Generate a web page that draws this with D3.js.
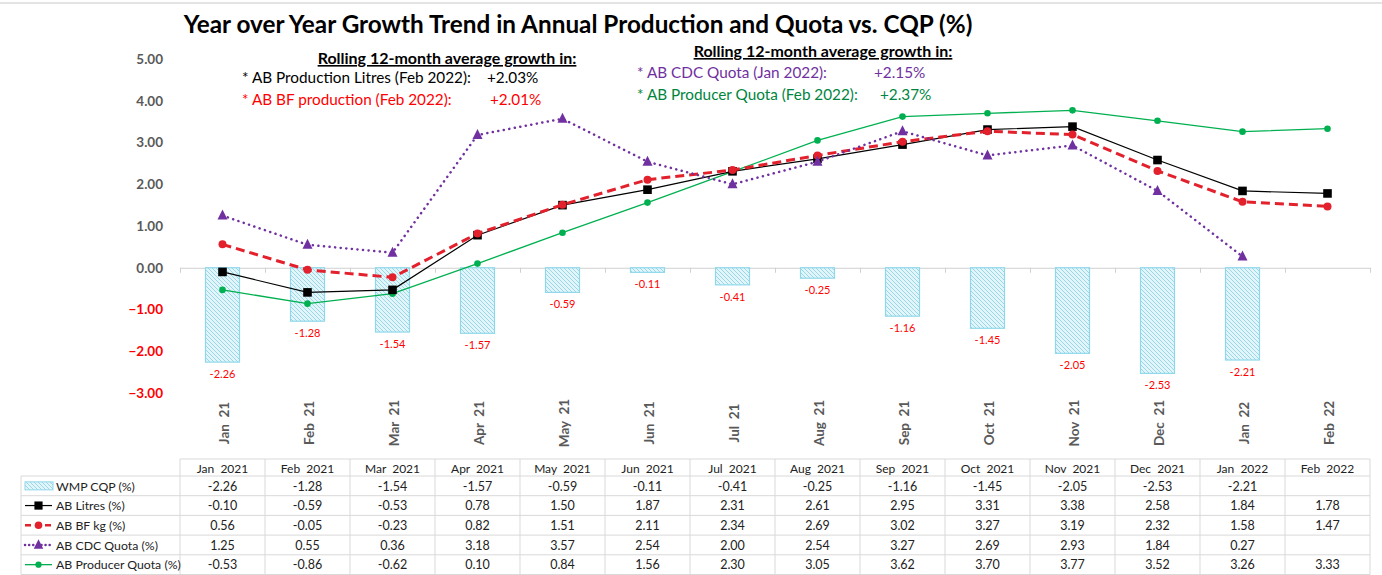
<!DOCTYPE html>
<html>
<head>
<meta content="text/html;charset=utf-8" http-equiv="Content-Type">
<title>YoY Growth Trend</title>
<script src="https://d3js.org/d3.v7.min.js"></script>
<style>
  body { margin: 0; background: #fff; }
  text { font-family: Lato, "Noto Sans", sans-serif; white-space: pre; }
</style>
</head>
<body>
<script>
// chart data
var months = ["Jan  21","Feb  21","Mar  21","Apr  21","May  21","Jun  21","Jul  21","Aug  21","Sep  21","Oct  21","Nov  21","Dec  21","Jan  22","Feb  22"];
var tableHeads = ["Jan  2021","Feb  2021","Mar  2021","Apr  2021","May  2021","Jun  2021","Jul  2021","Aug  2021","Sep  2021","Oct  2021","Nov  2021","Dec  2021","Jan  2022","Feb  2022"];
var wmpCqp = [-2.26,-1.28,-1.54,-1.57,-0.59,-0.11,-0.41,-0.25,-1.16,-1.45,-2.05,-2.53,-2.21,null];
var abLitres = [-0.10,-0.59,-0.53,0.78,1.50,1.87,2.31,2.61,2.95,3.31,3.38,2.58,1.84,1.78];
var abBfKg = [0.56,-0.05,-0.23,0.82,1.51,2.11,2.34,2.69,3.02,3.27,3.19,2.32,1.58,1.47];
var abCdc = [1.25,0.55,0.36,3.18,3.57,2.54,2.00,2.54,3.27,2.69,2.93,1.84,0.27,null];
var abProdQuota = [-0.53,-0.86,-0.62,0.10,0.84,1.56,2.30,3.05,3.62,3.70,3.77,3.52,3.26,3.33];
var yTicks = [5,4,3,2,1,0,-1,-2,-3];

var W = 1382, H = 575;
var svg = d3.select("body").append("svg").attr("width", W).attr("height", H);

// hatch for the bars
var defs = svg.append("defs");
var pat = defs.append("pattern").attr("id","hatch").attr("patternUnits","userSpaceOnUse")
  .attr("width",4).attr("height",4);
pat.append("rect").attr("width",4).attr("height",4).attr("fill","#e4f5fa");
pat.append("path").attr("d","M-1,-1 L5,5 M-1,3 L1,5 M3,-1 L5,1")
  .attr("stroke","#8fd6e9").attr("stroke-width",0.9);

svg.append("line").attr("x1",0).attr("x2",W).attr("y1",3).attr("y2",3)
  .attr("stroke","#c8c8c8");

// scales
var x = d3.scaleBand().domain(months).range([180,1370]);
var xBar = d3.scaleBand().domain(months).range([180,1370]).paddingInner(0.6).paddingOuter(0.3);
var y = d3.scaleLinear().domain([-3,5]).range([393,59]);
var cx = function(i){ return x(months[i]) + x.bandwidth()/2; };

// title
svg.append("text").attr("x",578).attr("y",33).attr("text-anchor","middle")
  .attr("font-size",24.3).attr("font-weight","bold").attr("fill","#000")
  .text("Year over Year Growth Trend in Annual Production and Quota vs. CQP (%)");

// y axis labels
var yAxis = svg.append("g").attr("transform","translate(163,0)")
  .call(d3.axisLeft(y).tickValues(yTicks).tickFormat(d3.format(".2f")).tickSize(0).tickPadding(0));
yAxis.select(".domain").remove();
yAxis.selectAll("text").attr("font-size",13.5).attr("font-weight","bold")
  .attr("font-family","Lato, sans-serif")
  .attr("fill", function(d){ return d < 0 ? "#ff0000" : "#595959"; });

// zero axis
var idx = d3.scaleLinear().domain([0,months.length]).range([180,1370]);
var xAxis = svg.append("g").attr("transform","translate(0," + y(0) + ")")
  .call(d3.axisBottom(idx).tickValues(d3.range(months.length+1)).tickSize(5).tickSizeOuter(0).tickFormat(""));
xAxis.selectAll("path,line").attr("stroke","#d0d0d0");

// month labels
svg.selectAll(".mlab").data(months).enter().append("text")
  .attr("transform", function(d,i){ return "translate(" + (cx(i)+1) + ",423) rotate(-90)"; })
  .attr("text-anchor","middle").attr("dominant-baseline","central")
  .attr("font-size",13.5).attr("font-weight","bold").attr("fill","#595959")
  .text(function(d){ return d; });

// bars
var bars = wmpCqp.map(function(v,i){ return {m: months[i], v: v}; }).filter(function(d){ return d.v !== null; });
svg.selectAll(".bar").data(bars).enter().append("rect")
  .attr("x", function(d){ return xBar(d.m); })
  .attr("width", xBar.bandwidth())
  .attr("y", function(d){ return y(Math.max(0,d.v)); })
  .attr("height", function(d){ return Math.abs(y(d.v) - y(0)); })
  .attr("fill","url(#hatch)").attr("stroke","#8fd8ea").attr("stroke-width",1.2);
svg.selectAll(".blab").data(bars).enter().append("text")
  .attr("x", function(d){ return xBar(d.m) + xBar.bandwidth()/2; })
  .attr("y", function(d){ return y(d.v) + 16; })
  .attr("text-anchor","middle").attr("font-size",11).attr("fill","#ff0000")
  .text(function(d){ return d.v.toFixed(2); });

// series lines
var series = [
  {vals: abProdQuota, color:"#00b050", width:1.3, dash:null, marker:"circle", size:3.3},
  {vals: abLitres, color:"#000000", width:1.2, dash:null, marker:"square", size:4.3},
  {vals: abBfKg, color:"#e3212d", width:3, dash:"9,5", marker:"circle", size:4},
  {vals: abCdc, color:"#7030a0", width:2.5, dash:"0.1,5.5", marker:"triangle", size:5}
];
var line = d3.line().defined(function(d){ return d.v !== null; })
  .x(function(d){ return cx(d.i); }).y(function(d){ return y(d.v); });

function drawMarker(g, type, color, s, px, py){
  if (type === "circle") {
    g.append("circle").attr("cx",px).attr("cy",py).attr("r",s).attr("fill",color);
  } else if (type === "square") {
    g.append("rect").attr("x",px-s).attr("y",py-s).attr("width",2*s).attr("height",2*s).attr("fill",color);
  } else {
    g.append("path").attr("d","M" + px + "," + (py-s-1) + " L" + (px+s) + "," + (py+s-1) + " L" + (px-s) + "," + (py+s-1) + "Z").attr("fill",color);
  }
}

series.forEach(function(s){
  var pts = s.vals.map(function(v,i){ return {i:i, v:v}; });
  var g = svg.append("g");
  g.append("path").attr("d", line(pts)).attr("fill","none").attr("stroke", s.color)
    .attr("stroke-width", s.width).attr("stroke-dasharray", s.dash)
    .attr("stroke-linecap", s.marker === "triangle" ? "round" : "butt");
  pts.filter(function(d){ return d.v !== null; }).forEach(function(d){
    drawMarker(g, s.marker, s.color, s.size, cx(d.i), y(d.v));
  });
});

// annotations
function ann(xp, yp, txt, color, opts){
  var t = svg.append("text").attr("x",xp).attr("y",yp).attr("font-size",15.3).attr("fill",color).text(txt);
  if (opts) { t.attr("font-size",16).attr("font-weight","bold").attr("text-anchor","middle").attr("text-decoration","underline"); }
  return t;
}
ann(447, 64, "Rolling 12-month average growth in:", "#000", true);
ann(242, 83, "* AB Production Litres (Feb 2022):", "#000");
ann(487, 83, "+2.03%", "#000");
ann(242, 105, "* AB BF production (Feb 2022):", "#ff0000");
ann(490, 105, "+2.01%", "#ff0000");
ann(823, 57, "Rolling 12-month average growth in:", "#000", true);
ann(637, 78, "* AB CDC Quota (Jan 2022):", "#7030a0");
ann(874, 78, "+2.15%", "#7030a0");
ann(637, 100, "* AB Producer Quota (Feb 2022):", "#00853e");
ann(880, 100, "+2.37%", "#00853e");

// data table
var rowTop = 476, rowH = 19.7, headTop = 459;
var tbl = svg.append("g");
var gridC = "#d9d9d9";
var rows = [
  {name:"WMP CQP (%)", vals: wmpCqp, s:null},
  {name:"AB Litres (%)", vals: abLitres, s:series[1]},
  {name:"AB BF kg (%)", vals: abBfKg, s:series[2]},
  {name:"AB CDC Quota (%)", vals: abCdc, s:series[3]},
  {name:"AB Producer Quota (%)", vals: abProdQuota, s:series[0]}
];
// header
tbl.append("line").attr("x1",180).attr("x2",1370).attr("y1",headTop).attr("y2",headTop).attr("stroke",gridC);
for (var r = 0; r <= rows.length; r++) {
  tbl.append("line").attr("x1",21).attr("x2",1370).attr("y1",rowTop + r*rowH).attr("y2",rowTop + r*rowH).attr("stroke",gridC);
}
tbl.append("line").attr("x1",21).attr("x2",21).attr("y1",rowTop).attr("y2",rowTop + rows.length*rowH).attr("stroke",gridC);
for (var c = 0; c <= months.length; c++) {
  tbl.append("line").attr("x1",idx(c)).attr("x2",idx(c)).attr("y1",headTop).attr("y2",rowTop + rows.length*rowH).attr("stroke",gridC);
}
tableHeads.forEach(function(h,i){
  tbl.append("text").attr("x",cx(i)).attr("y",headTop + 13.5).attr("text-anchor","middle")
    .attr("font-size",12).attr("fill","#222").text(h);
});
rows.forEach(function(row, r){
  var ty = rowTop + r*rowH;
  var my = ty + rowH/2;
  if (row.s === null) {
    tbl.append("rect").attr("x",25).attr("y",my-4).attr("width",28).attr("height",8)
      .attr("fill","url(#hatch)").attr("stroke","#8fd8ea");
  } else {
    tbl.append("line").attr("x1",25).attr("x2",52).attr("y1",my).attr("y2",my)
      .attr("stroke",row.s.color).attr("stroke-width",Math.min(row.s.width,2.5))
      .attr("stroke-dasharray", row.s.dash === null ? null : (row.s.marker === "triangle" ? "0.1,4" : "6,4"))
      .attr("stroke-linecap", row.s.marker === "triangle" ? "round" : "butt");
    drawMarker(tbl, row.s.marker, row.s.color, row.s.size*0.95, 38.5, my);
  }
  tbl.append("text").attr("x",56).attr("y",ty + 14.5).attr("font-size",12.3).attr("fill","#222").text(row.name);
  row.vals.forEach(function(v,i){
    if (v === null) return;
    tbl.append("text").attr("x",cx(i)).attr("y",ty + 14.5).attr("text-anchor","middle")
      .attr("font-size",12.5).attr("fill","#222").text(v.toFixed(2));
  });
});
</script>
</body>
</html>
